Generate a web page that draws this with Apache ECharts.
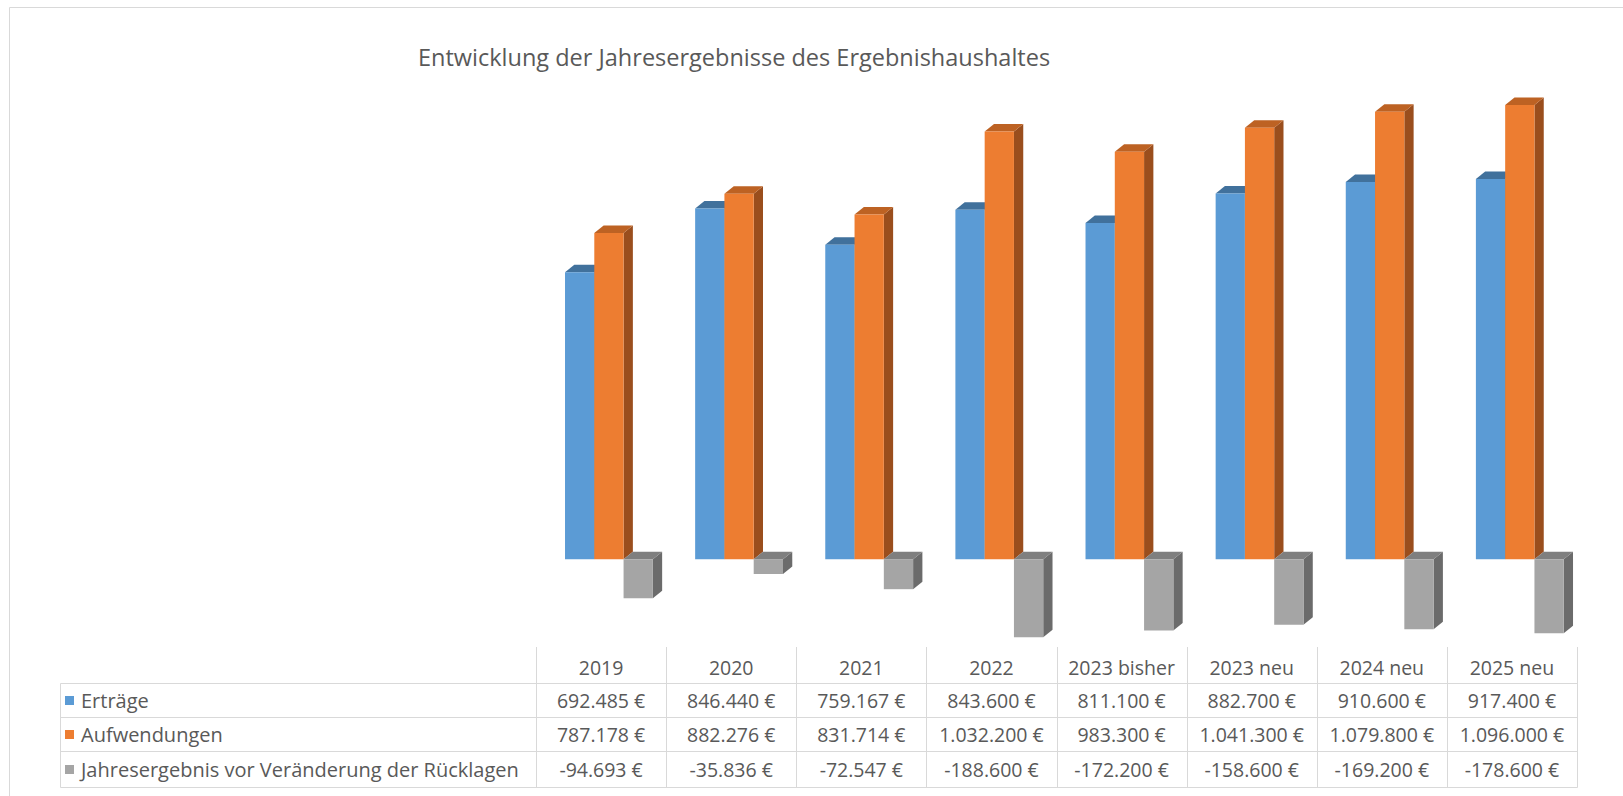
<!DOCTYPE html>
<html>
<head>
<meta charset="utf-8">
<script src="https://cdn.jsdelivr.net/npm/echarts@6/dist/echarts.min.js"></script>
<style>
  html, body { margin: 0; padding: 0; background: #fff; }
  #chart { width: 1623px; height: 796px; }
</style>
</head>
<body>
<div id="chart"></div>
<script>
const categories = ['2019', '2020', '2021', '2022', '2023 bisher', '2023 neu', '2024 neu', '2025 neu']
const seriesNames = ['Erträge', 'Aufwendungen', 'Jahresergebnis vor Veränderung der Rücklagen']
const ertraege = [692485, 846440, 759167, 843600, 811100, 882700, 910600, 917400]
const aufwendungen = [787178, 882276, 831714, 1032200, 983300, 1041300, 1079800, 1096000]
const jahresergebnis = [-94693, -35836, -72547, -188600, -172200, -158600, -169200, -178600]

const FONT = 'Open Sans'
const TXT = '#595959'
const GRID = '#d9d9d9'

// front, top, side
const palette = [
  ['#5B9BD5', '#41719C', '#3E6B94'],
  ['#ED7D31', '#BD6223', '#9A4E1D'],
  ['#A5A5A5', '#7F7F7F', '#6B6B6B']
]

function fmt(v) {
  const s = Math.abs(v).toString().replace(/\B(?=(\d{3})+(?!\d))/g, '.')
  return (v < 0 ? '-' : '') + s + ' €'
}

// fake 3d column, drawn from the axis coords
function bar3d(k) {
  const [front, top, side] = palette[k]
  return function (params, api) {
    const i = api.value(0)
    const v = api.value(1)
    const base = api.coord([i, 0])
    const end = api.coord([i, v])
    const band = api.size([1, 0])[0]
    const bw = band * 0.225
    const x0 = base[0] - band / 2 + band * 0.223 + k * bw
    const x1 = x0 + bw
    const yT = Math.min(base[1], end[1])
    const yB = Math.max(base[1], end[1])
    const dx = 9.3, dy = 7.5
    return {
      type: 'group',
      children: [
        {type: 'polygon', shape: {points: [[x1, yT], [x1 + dx, yT - dy], [x1 + dx, yB - dy], [x1, yB]]}, style: {fill: side}},
        {type: 'polygon', shape: {points: [[x0, yT], [x0 + dx, yT - dy], [x1 + dx, yT - dy], [x1, yT]]}, style: {fill: top}},
        {type: 'rect', shape: {x: x0, y: yT, width: bw, height: yB - yT}, style: {fill: front}}
      ]
    }
  }
}

const allValues = [ertraege, aufwendungen, jahresergebnis]

const chart = echarts.init(document.getElementById('chart'), null, {renderer: 'svg'})
const option = {
  animation: false,
  title: {
    text: 'Entwicklung der Jahresergebnisse des Ergebnishaushaltes',
    left: 413,
    top: 40,
    textStyle: {fontFamily: FONT, fontSize: 23.5, fontWeight: 'normal', color: TXT}
  },
  grid: {left: 536, right: 46, top: 62, bottom: 154},
  xAxis: {
    type: 'category',
    data: categories,
    axisLine: {show: false},
    axisTick: {show: false},
    axisLabel: {interval: 0, hideOverlap: false, margin: 15, fontFamily: FONT, fontSize: 19.5, color: TXT}
  },
  yAxis: {
    type: 'value',
    min: -200000,
    max: 1200000,
    show: false,
    splitLine: {show: false}
  },
  series: allValues.map((vals, k) => ({
    name: seriesNames[k],
    type: 'custom',
    renderItem: bar3d(k),
    data: vals.map((v, i) => [i, v])
  }))
}
chart.setOption(option)

// data table under the plot
const centers = categories.map((c, i) => chart.convertToPixel({xAxisIndex: 0}, i))
const band = centers[1] - centers[0]
const tLeft = 60.5
const tRight = Math.round(centers[centers.length - 1] + band / 2) + 0.5
const headTop = 647
const rows = [683.5, 717.5, 751.5, 787.5]
const g = []
g.push({type: 'rect', shape: {x: 9.5, y: 7.5, width: 1700, height: 900}, style: {fill: null, stroke: GRID, lineWidth: 1}, silent: true})
rows.forEach(y => {
  g.push({type: 'line', shape: {x1: tLeft, y1: y, x2: tRight, y2: y}, style: {stroke: GRID, lineWidth: 1}})
})
g.push({type: 'line', shape: {x1: tLeft, y1: rows[0], x2: tLeft, y2: rows[3]}, style: {stroke: GRID, lineWidth: 1}})
for (let i = 0; i <= categories.length; i++) {
  const x = Math.round(centers[0] - band / 2 + i * band) + 0.5
  g.push({type: 'line', shape: {x1: x, y1: headTop, x2: x, y2: rows[3]}, style: {stroke: GRID, lineWidth: 1}})
}
allValues.forEach((vals, r) => {
  const cy = (rows[r] + rows[r + 1]) / 2
  g.push({type: 'rect', shape: {x: 65, y: cy - 4.5, width: 9, height: 9}, style: {fill: palette[r][0]}})
  g.push({type: 'text', x: 81, y: cy, style: {text: seriesNames[r], fontFamily: FONT, fontSize: 20, fill: TXT, verticalAlign: 'middle'}})
  vals.forEach((v, i) => {
    g.push({type: 'text', x: centers[i], y: cy, style: {text: fmt(v), fontFamily: FONT, fontSize: 19.5, fill: TXT, align: 'center', verticalAlign: 'middle'}})
  })
})
chart.setOption({graphic: g})
</script>
</body>
</html>
